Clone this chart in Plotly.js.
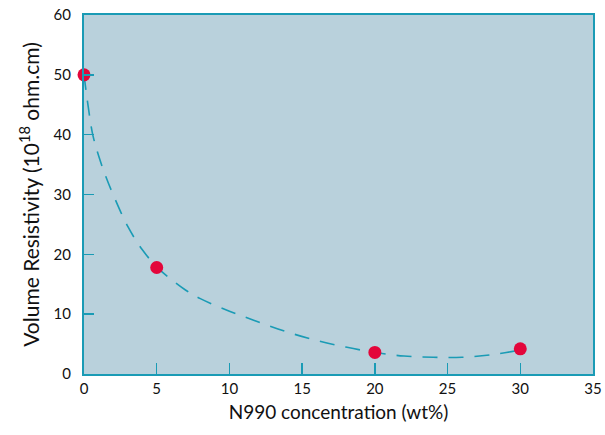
<!DOCTYPE html>
<html>
<head>
<meta charset="utf-8">
<script src="https://cdn.plot.ly/plotly-3.0.1.min.js"></script>
<style>html,body{margin:0;padding:0;background:#fff;}#chart{width:605px;height:435px;}</style>
</head>
<body>
<div id="chart"></div>
<script>
// Measured data points
const concentration = [0, 5, 20, 30];
const resistivity = [50, 17.8, 3.6, 4.2];

// Dashed fitted trend curve
const fitX = [0, 0.3, 0.6, 1, 1.5, 2, 3, 4, 5, 6, 7, 8, 10, 12, 14, 16, 18, 20, 22, 24, 26, 28, 30];
const fitY = [50, 44.5, 40, 36.5, 33, 30, 24.7, 20.8, 17.9, 15.8, 14.0, 12.6, 10.5, 8.7, 7.0, 5.6, 4.5, 3.6, 3.0, 2.8, 2.8, 3.2, 4.0];

const xTicks = [0, 5, 10, 15, 20, 25, 30, 35];
const yTicks = [0, 10, 20, 30, 40, 50, 60];

const teal = '#1a9bb5';

const traces = [
  {
    x: fitX, y: fitY, type: 'scatter', mode: 'lines',
    line: {color: teal, width: 1.6, dash: '15px,11px', shape: 'spline', smoothing: 1},
    hoverinfo: 'skip', showlegend: false
  },
  {
    x: concentration, y: resistivity, type: 'scatter', mode: 'markers',
    marker: {color: '#e3063b', size: 13},
    cliponaxis: false, showlegend: false
  }
];

const layout = {
  width: 605, height: 435,
  margin: {l: 84, r: 12, t: 15, b: 61},
  paper_bgcolor: '#ffffff',
  plot_bgcolor: '#b9d1dc',
  font: {family: 'Lato, "Open Sans", sans-serif', color: '#111', size: 15},
  xaxis: {
    range: [0, 35], tickvals: xTicks, ticktext: xTicks.map(String),
    showgrid: false, zeroline: false,
    showline: true, linecolor: teal, linewidth: 2, mirror: true,
    ticks: 'inside', ticklen: 11, tickwidth: 1.5, tickcolor: teal,
    ticklabelstandoff: 0,
    tickfont: {size: 15, color: '#111'},
    title: {text: 'N990 concentration (wt%)', font: {size: 19, color: '#111'}, standoff: 10}
  },
  yaxis: {
    range: [0, 60], tickvals: yTicks, ticktext: yTicks.map(String),
    showgrid: false, zeroline: false,
    showline: true, linecolor: teal, linewidth: 2, mirror: true,
    ticks: 'inside', ticklen: 10, tickwidth: 1.5, tickcolor: teal,
    ticklabelstandoff: 8,
    tickfont: {size: 15, color: '#111'},
    title: {text: 'Volume Resistivity (10<sup>18</sup> ohm.cm)', font: {size: 21, color: '#111'}, standoff: 8}
  }
};

Plotly.newPlot('chart', traces, layout, {displayModeBar: false, staticPlot: true});
</script>
</body>
</html>
